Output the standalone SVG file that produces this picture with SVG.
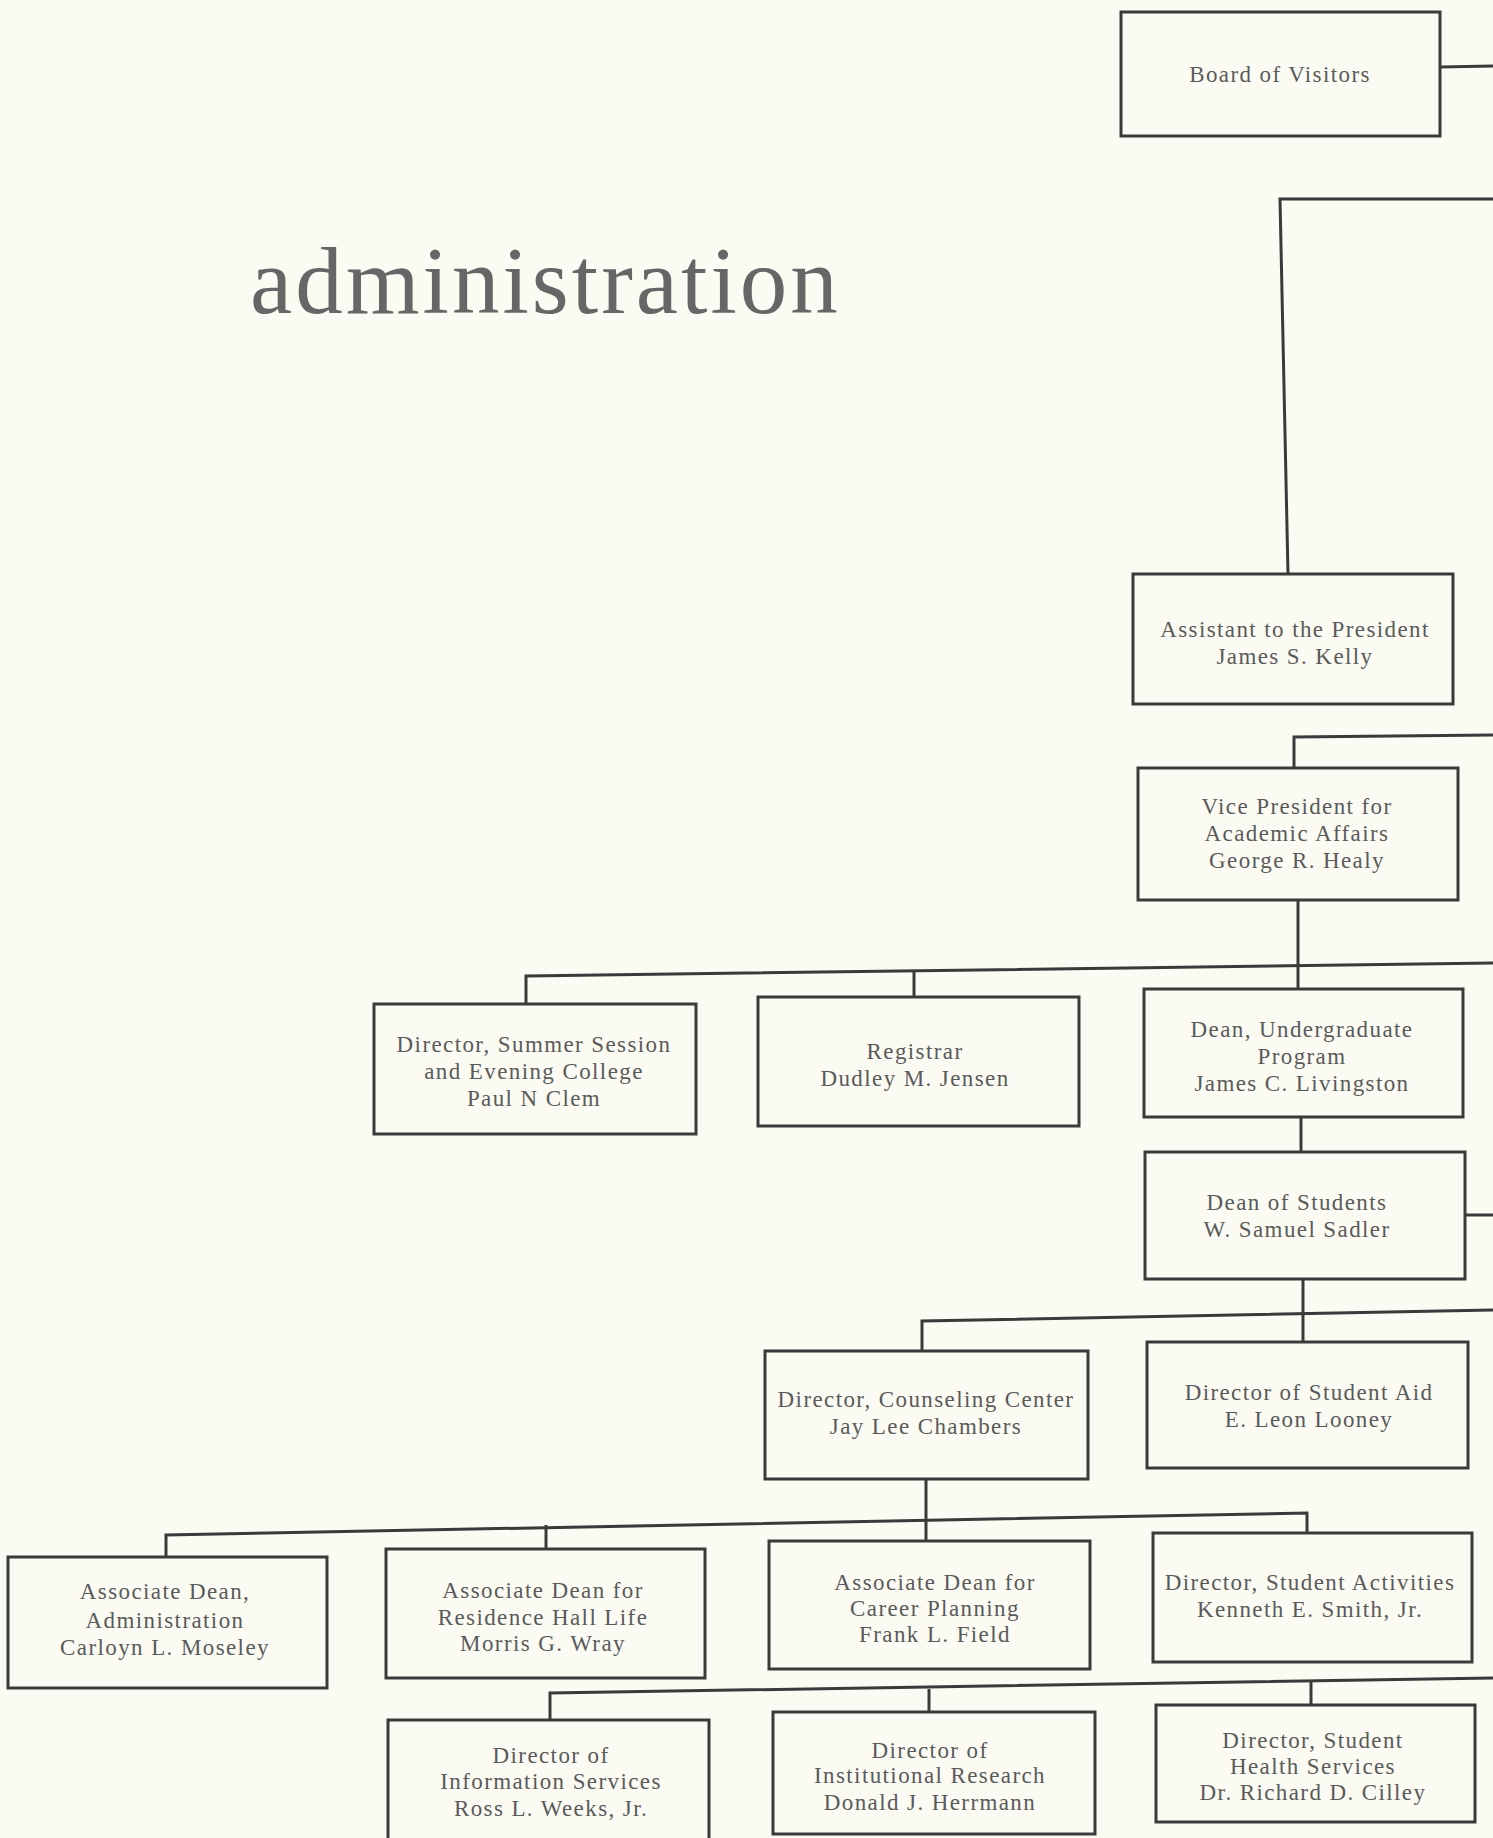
<svg xmlns="http://www.w3.org/2000/svg" width="1493" height="1838" viewBox="0 0 1493 1838">
<style>
.bg{fill:#fbfbf3}
.box{fill:none;stroke:#3a3a3a;stroke-width:3}
.ln{fill:none;stroke:#3a3a3a;stroke-width:3;stroke-linejoin:miter}
.t{font-family:"Liberation Serif",serif;font-size:23px;fill:#5a5a5a;text-anchor:middle;letter-spacing:1.4px}
.title{font-family:"Liberation Serif",serif;font-size:95px;fill:#666;letter-spacing:3px}
</style>
<rect class="bg" x="0" y="0" width="1493" height="1838"/>
<text class="title" x="250" y="313">administration</text>
<g id="connectors">
<path class="ln" d="M1440,67 L1493,66"/>
<path class="ln" d="M1493,199 L1280,199 L1288,574"/>
<path class="ln" d="M1493,735 L1294,737 L1294,768"/>
<path class="ln" d="M1298,900 L1298,989"/>
<path class="ln" d="M526,1005 L526,976 L1493,963"/>
<path class="ln" d="M914,971 L914,997"/>
<path class="ln" d="M1301,1117 L1301,1152"/>
<path class="ln" d="M1465,1215 L1493,1215"/>
<path class="ln" d="M1303,1279 L1303,1342"/>
<path class="ln" d="M922,1351 L922,1321 L1493,1310"/>
<path class="ln" d="M926,1479 L926,1541"/>
<path class="ln" d="M166,1557 L166,1535 L1307,1513 L1307,1533"/>
<path class="ln" d="M546,1525 L546,1549"/>
<path class="ln" d="M550,1720 L550,1693 L1493,1678"/>
<path class="ln" d="M929,1689 L929,1712"/>
<path class="ln" d="M1311,1681 L1311,1705"/>
</g>
<g id="board">
<rect class="box" x="1121" y="12" width="319" height="124"/>
<text class="t" x="1280" y="82">Board of Visitors</text>
</g>
<g id="assistant">
<rect class="box" x="1133" y="574" width="320" height="130"/>
<text class="t" x="1295" y="637">Assistant to the President</text>
<text class="t" x="1295" y="664">James S. Kelly</text>
</g>
<g id="vp">
<rect class="box" x="1138" y="768" width="320" height="132"/>
<text class="t" x="1297" y="814">Vice President for</text>
<text class="t" x="1297" y="841">Academic Affairs</text>
<text class="t" x="1297" y="868">George R. Healy</text>
</g>
<g id="summer">
<rect class="box" x="374" y="1004" width="322" height="130"/>
<text class="t" x="534" y="1052">Director, Summer Session</text>
<text class="t" x="534" y="1079">and Evening College</text>
<text class="t" x="534" y="1106">Paul N  Clem</text>
</g>
<g id="registrar">
<rect class="box" x="758" y="997" width="321" height="129"/>
<text class="t" x="915" y="1059">Registrar</text>
<text class="t" x="915" y="1086">Dudley M. Jensen</text>
</g>
<g id="deanug">
<rect class="box" x="1144" y="989" width="319" height="128"/>
<text class="t" x="1302" y="1037">Dean, Undergraduate</text>
<text class="t" x="1302" y="1064">Program</text>
<text class="t" x="1302" y="1091">James C. Livingston</text>
</g>
<g id="deanstudents">
<rect class="box" x="1145" y="1152" width="320" height="127"/>
<text class="t" x="1297" y="1210">Dean of Students</text>
<text class="t" x="1297" y="1237">W. Samuel Sadler</text>
</g>
<g id="counseling">
<rect class="box" x="765" y="1351" width="323" height="128"/>
<text class="t" x="926" y="1407">Director, Counseling Center</text>
<text class="t" x="926" y="1434">Jay Lee Chambers</text>
</g>
<g id="studentaid">
<rect class="box" x="1147" y="1342" width="321" height="126"/>
<text class="t" x="1309" y="1400">Director of Student Aid</text>
<text class="t" x="1309" y="1427">E. Leon Looney</text>
</g>
<g id="assocadmin">
<rect class="box" x="8" y="1557" width="319" height="131"/>
<text class="t" x="165" y="1599">Associate Dean,</text>
<text class="t" x="165" y="1628">Administration</text>
<text class="t" x="165" y="1655">Carloyn L. Moseley</text>
</g>
<g id="residence">
<rect class="box" x="386" y="1549" width="319" height="129"/>
<text class="t" x="543" y="1598">Associate Dean for</text>
<text class="t" x="543" y="1625">Residence Hall Life</text>
<text class="t" x="543" y="1651">Morris G. Wray</text>
</g>
<g id="career">
<rect class="box" x="769" y="1541" width="321" height="128"/>
<text class="t" x="935" y="1590">Associate Dean for</text>
<text class="t" x="935" y="1616">Career Planning</text>
<text class="t" x="935" y="1642">Frank L. Field</text>
</g>
<g id="activities">
<rect class="box" x="1153" y="1533" width="319" height="129"/>
<text class="t" x="1310" y="1590">Director, Student Activities</text>
<text class="t" x="1310" y="1617">Kenneth E. Smith, Jr.</text>
</g>
<g id="infoservices">
<rect class="box" x="388" y="1720" width="321" height="130"/>
<text class="t" x="551" y="1763">Director of</text>
<text class="t" x="551" y="1789">Information Services</text>
<text class="t" x="551" y="1816">Ross L. Weeks, Jr.</text>
</g>
<g id="research">
<rect class="box" x="773" y="1712" width="322" height="122"/>
<text class="t" x="930" y="1758">Director of</text>
<text class="t" x="930" y="1783">Institutional Research</text>
<text class="t" x="930" y="1810">Donald J. Herrmann</text>
</g>
<g id="health">
<rect class="box" x="1156" y="1705" width="319" height="117"/>
<text class="t" x="1313" y="1748">Director, Student</text>
<text class="t" x="1313" y="1774">Health Services</text>
<text class="t" x="1313" y="1800">Dr. Richard D. Cilley</text>
</g>
</svg>
